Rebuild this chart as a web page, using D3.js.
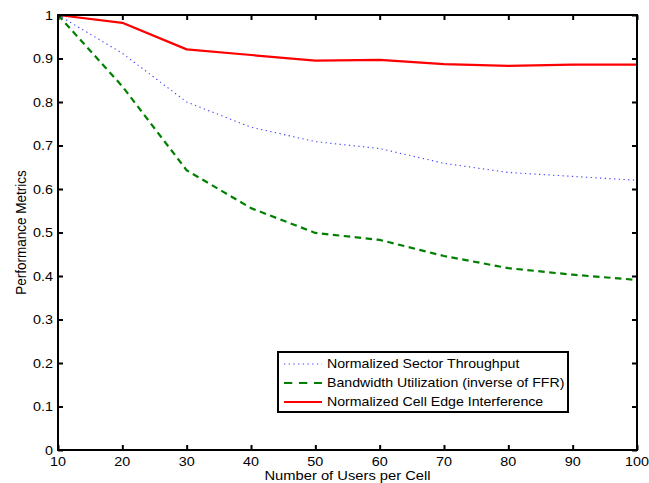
<!DOCTYPE html>
<html>
<head>
<meta charset="utf-8">
<script src="https://cdn.jsdelivr.net/npm/d3@7"></script>
<style>
  html, body { margin: 0; padding: 0; background: #fff; }
  svg { display: block; }
  text { font-family: "Liberation Sans", Arial, Helvetica, sans-serif; fill: #000; }
</style>
</head>
<body>
<svg id="chart" width="649" height="483"></svg>
<script>
// Number of users per cell (x axis)
const users = [10, 20, 30, 40, 50, 60, 70, 80, 90, 100];

// Performance metrics per user load
const sectorThroughput = [1.000, 0.912, 0.800, 0.742, 0.709, 0.693, 0.659, 0.638, 0.629, 0.620];
const bandwidthUtilization = [1.000, 0.836, 0.643, 0.556, 0.499, 0.483, 0.446, 0.418, 0.403, 0.391];
const edgeInterference = [1.000, 0.982, 0.921, 0.908, 0.895, 0.897, 0.887, 0.883, 0.886, 0.886];

// Axis ticks
const xTicks = [10, 20, 30, 40, 50, 60, 70, 80, 90, 100];
const yTicks = [0, 0.1, 0.2, 0.3, 0.4, 0.5, 0.6, 0.7, 0.8, 0.9, 1];

const seriesNames = [
  "Normalized Sector Throughput",
  "Bandwidth Utilization (inverse of FFR)",
  "Normalized Cell Edge Interference"
];

const series = [
  { name: seriesNames[0], values: sectorThroughput, color: "#4040ff", width: 1.1, dash: "1.3,3.4", legendDash: "1.3,3.4" },
  { name: seriesNames[1], values: bandwidthUtilization, color: "#008000", width: 2.2, dash: "6.5,4.5", legendDash: "8.3,6.7" },
  { name: seriesNames[2], values: edgeInterference, color: "#ff0000", width: 2.2, dash: null, legendDash: null }
];

const svg = d3.select("#chart");
const plotLeft = 58, plotRight = 637, plotTop = 15, plotBottom = 450;
const stretch = 1.15; // horizontal text widening

const x = d3.scaleLinear().domain([10, 100]).range([plotLeft, plotRight]);
const y = d3.scaleLinear().domain([0, 1]).range([plotBottom, plotTop]);

// Data lines
const line = d3.line().x((d, i) => x(users[i])).y(d => y(d));
series.forEach(s => {
  svg.append("path")
    .datum(s.values)
    .attr("d", line)
    .attr("fill", "none")
    .attr("stroke", s.color)
    .attr("stroke-width", s.width)
    .attr("stroke-dasharray", s.dash)
    .attr("stroke-linejoin", "round");
});

// Axes with inward ticks on all four sides
const tickLen = 5;
function styleAxis(g) {
  g.select(".domain").remove();
  g.selectAll(".tick line").attr("stroke", "#000").attr("stroke-width", 2);
  g.selectAll(".tick text").remove();
}
svg.append("g").attr("transform", `translate(0,${plotBottom})`)
  .call(d3.axisBottom(x).tickValues(xTicks).tickSize(-tickLen)).call(styleAxis);
svg.append("g").attr("transform", `translate(0,${plotTop})`)
  .call(d3.axisTop(x).tickValues(xTicks).tickSize(-tickLen)).call(styleAxis);
svg.append("g").attr("transform", `translate(${plotLeft},0)`)
  .call(d3.axisLeft(y).tickValues(yTicks).tickSize(-tickLen)).call(styleAxis);
svg.append("g").attr("transform", `translate(${plotRight},0)`)
  .call(d3.axisRight(y).tickValues(yTicks).tickSize(-tickLen)).call(styleAxis);

// Frame
svg.append("rect")
  .attr("x", plotLeft).attr("y", plotTop)
  .attr("width", plotRight - plotLeft).attr("height", plotBottom - plotTop)
  .attr("fill", "none").attr("stroke", "#000").attr("stroke-width", 2);

// Tick labels
const fmt = d => d3.format("~g")(d);
svg.append("g").selectAll("text").data(xTicks).join("text")
  .attr("transform", d => `translate(${x(d)},${plotBottom + 16}) scale(${stretch},1)`)
  .attr("text-anchor", "middle")
  .attr("font-size", 12.5)
  .text(fmt);
svg.append("g").selectAll("text").data(yTicks).join("text")
  .attr("transform", d => `translate(${plotLeft - 5},${y(d) + 4.5}) scale(${stretch},1)`)
  .attr("text-anchor", "end")
  .attr("font-size", 12.5)
  .text(fmt);

// Axis titles
svg.append("text")
  .attr("transform", `translate(${(plotLeft + plotRight) / 2},${plotBottom + 30.3}) scale(1.18,1)`)
  .attr("text-anchor", "middle")
  .attr("font-size", 12.5)
  .text("Number of Users per Cell");
svg.append("text")
  .attr("transform", `translate(26,${(plotTop + plotBottom) / 2}) scale(${stretch},1) rotate(-90)`)
  .attr("text-anchor", "middle")
  .attr("font-size", 13.5)
  .text("Performance Metrics");

// Legend
const legend = svg.append("g");
legend.append("rect")
  .attr("x", 278).attr("y", 352).attr("width", 290).attr("height", 60)
  .attr("fill", "#fff").attr("stroke", "#000").attr("stroke-width", 2);
series.forEach((s, i) => {
  const cy = 364 + i * 19;
  legend.append("line")
    .attr("x1", 284).attr("x2", 322).attr("y1", cy).attr("y2", cy)
    .attr("stroke", s.color)
    .attr("stroke-width", s.width)
    .attr("stroke-dasharray", s.legendDash);
  legend.append("text")
    .attr("transform", `translate(327,${cy + 4.3}) scale(1.18,1)`)
    .attr("font-size", 12)
    .text(s.name);
});
</script>
</body>
</html>
